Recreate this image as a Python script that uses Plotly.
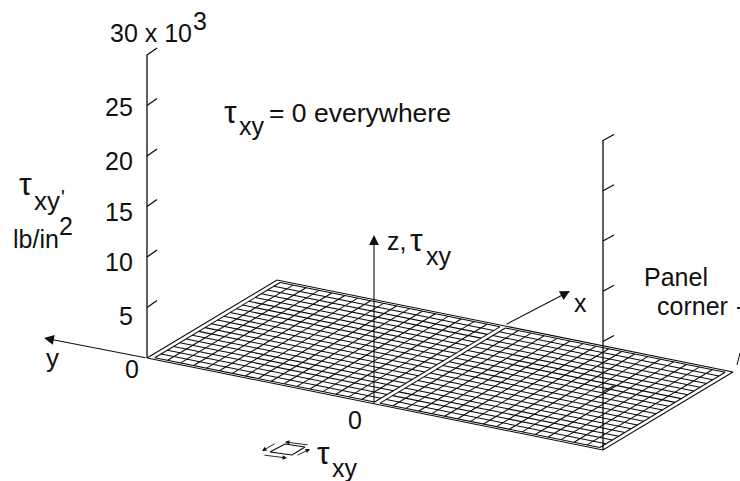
import numpy as np
import plotly.graph_objects as go

# Data
z_ticks = [5, 10, 15, 20, 25, 30]
z_labels = ["5", "10", "15", "20", "25", "30 x 10"]
z_label_y = [316, 262, 212, 161, 107, 33]
tau_xy_surface = 0.0              # tau_xy = 0 everywhere
half_span_cells = 17              # cells along the long edge in each half panel
chord_cells = 20                  # cells along the short panel edge
u_edges = [0.0, 0.012, 0.494, 0.506, 0.988, 1.0]
v_edges = [0.0, 0.018, 0.982, 1.0]

# Projection of panel coordinates (u long edge, v short edge, z up) to the page
O = np.array([147.0, 358.0])
EU = np.array([456.0, 92.0])
EV = np.array([130.0, -78.0])
ZS = 50.5 / 5
LINE = "#0a0a0a"


def P(u, v, z=0.0):
    p = O + EU * u + EV * v + np.array([0.0, -ZS * z])
    return float(p[0]), float(p[1])


def seg(xs, ys, pts):
    for p in pts:
        xs.append(p[0]); ys.append(p[1])
    xs.append(None); ys.append(None)


fig = go.Figure()

# mesh: two half panels, each inside a narrow border strip
mx, my = [], []
for ua, ub in [(u_edges[1], u_edges[2]), (u_edges[3], u_edges[4])]:
    for u in np.linspace(ua, ub, half_span_cells + 1):
        seg(mx, my, [P(u, v_edges[1], tau_xy_surface), P(u, v_edges[2], tau_xy_surface)])
    for v in np.linspace(v_edges[1], v_edges[2], chord_cells + 1):
        seg(mx, my, [P(ua, v, tau_xy_surface), P(ub, v, tau_xy_surface)])
seg(mx, my, [P(0, 0), P(1, 0), P(1, 1), P(0, 1), P(0, 0)])
fig.add_trace(go.Scatter(x=mx, y=my, mode="lines", line=dict(color=LINE, width=1.05), hoverinfo="skip"))

# vertical axes and ticks
ax, ay = [], []
seg(ax, ay, [P(0, 0, 0), P(0, 0, 30)])
seg(ax, ay, [P(1, 0, 0), (603, 140)])
for z in z_ticks:
    x0, y0 = P(0, 0, z)
    seg(ax, ay, [(x0, y0), (x0 + 10, y0 - 7)])
    xr, yr = P(1, 0, 0)
    yt = yr - 8 - 10.05 * z
    seg(ax, ay, [(xr, yt), (xr + 11, yt - 6)])
fig.add_trace(go.Scatter(x=ax, y=ay, mode="lines", line=dict(color=LINE, width=1.3), hoverinfo="skip"))

# panel-corner tick and shear symbol
fig.add_trace(go.Scatter(x=[737, 740], y=[365, 353], mode="lines", line=dict(color=LINE, width=1), hoverinfo="skip"))
fig.add_trace(go.Scatter(x=[270, 285, 305, 292, 270], y=[452, 444, 447, 455, 452], mode="lines",
                         line=dict(color=LINE, width=1.1), hoverinfo="skip"))

anns = []


def T(x, y, text, size=25, xanchor="left"):
    anns.append(dict(x=x, y=y, text=text, showarrow=False, xanchor=xanchor, yanchor="middle",
                     font=dict(family="Liberation Sans", size=size, color="#111111")))


def A(x0, y0, x1, y1, size=1.8, width=1.1):
    anns.append(dict(x=x1, y=y1, ax=x0, ay=y0, axref="x", ayref="y", xref="x", yref="y", text="",
                     showarrow=True, arrowhead=2, arrowsize=size, arrowwidth=width, arrowcolor="#111111"))


for z, lab, y in zip(z_ticks, z_labels, z_label_y):
    if z == 30:
        T(108, y, lab)
    else:
        T(135, y, lab, xanchor="right")
T(132, 369, "0", xanchor="center")
T(191, 21, "3")

T(17, 184, "τ", size=32)
T(32, 201, "xy", size=26)
T(59, 197, "'", size=20)
T(11, 239, "lb/in")
T(57, 226, "2")

T(222, 112, "τ", size=32)
T(237, 126, "xy")
T(267, 113, "= 0 everywhere", size=26.5)

T(385, 241, "z,")
T(408, 240, "τ", size=32)
T(424, 256, "xy")

T(572, 303, "x")
T(44, 358, "y", size=26)
T(355, 420, "0", xanchor="center")
T(315, 453, "τ", size=32)
T(330, 468, "xy", size=25)
T(642, 277, "Panel")
T(655, 306, "corner")
T(734, 306, "-")

A(147, 358, 44, 338)
A(374, 405, 374, 235)
A(505, 325, 570, 291)
A(276, 443, 262, 451, size=1.0, width=0.9)
A(309, 445, 285, 442, size=1.0, width=0.9)
A(296, 456, 310, 449, size=1.0, width=0.9)
A(263, 455, 287, 458, size=1.0, width=0.9)

fig.update_layout(
    width=740, height=481, margin=dict(l=0, r=0, t=0, b=0),
    paper_bgcolor="white", plot_bgcolor="white", showlegend=False, annotations=anns,
    xaxis=dict(range=[0, 740], visible=False, fixedrange=True),
    yaxis=dict(range=[481, 0], visible=False, fixedrange=True),
)
fig.write_html("out.html", config={"displayModeBar": False},
               post_script="document.body.style.margin='0';document.documentElement.style.overflow='hidden';")
